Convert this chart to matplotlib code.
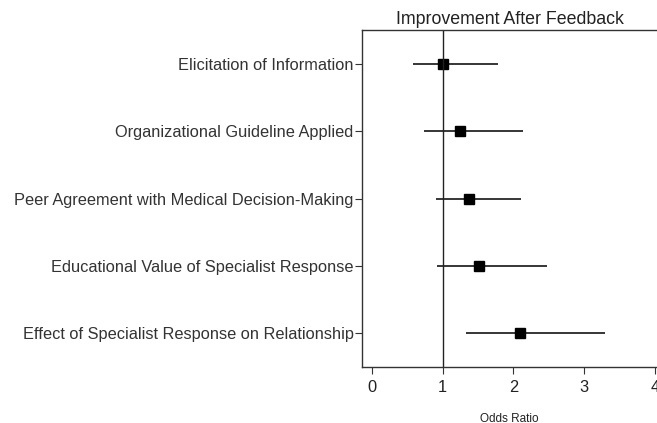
import matplotlib
matplotlib.use("Agg")
import matplotlib.pyplot as plt

plt.rcParams['font.family'] = ['Liberation Sans', 'DejaVu Sans']

outcomes = [
    "Elicitation of Information",
    "Organizational Guideline Applied",
    "Peer Agreement with Medical Decision-Making",
    "Educational Value of Specialist Response",
    "Effect of Specialist Response on Relationship",
]
odds_ratio = [1.00, 1.25, 1.37, 1.51, 2.09]
ci_low = [0.58, 0.74, 0.90, 0.92, 1.33]
ci_high = [1.78, 2.14, 2.11, 2.48, 3.29]

fig = plt.figure(figsize=(6.57, 4.23), dpi=100)
ax = fig.add_axes([0.551, 0.132, 0.449, 0.797])

rows = list(range(len(outcomes), 0, -1))
for y, lo, hi in zip(rows, ci_low, ci_high):
    ax.plot([lo, hi], [y, y], color="black", lw=1.1, solid_capstyle="butt")
ax.plot(odds_ratio, rows, "s", color="black", ms=7.2)
ax.axvline(1, color="#222222", lw=1.0)

ax.set_xlim(-0.14, 4.03)
ax.set_ylim(0.5, len(outcomes) + 0.5)
ax.set_yticks(rows)
ax.set_yticklabels(outcomes, fontsize=11.8, color="#222222")
ax.set_xticks([0, 1, 2, 3, 4])
ax.tick_params(axis="x", labelsize=11.8, length=5, colors="#333333", labelcolor="#222222", pad=4)
ax.tick_params(axis="y", length=5, colors="#333333", pad=1)

for side in ["left", "bottom", "top"]:
    ax.spines[side].set_color("#333333")
    ax.spines[side].set_linewidth(1.0)
ax.spines["right"].set_visible(False)

ax.set_title("Improvement After Feedback", fontsize=12.8, color="#222222", pad=4)
ax.set_xlabel("Odds Ratio", fontsize=8.5, color="#222222", labelpad=13)

fig.savefig("out.png", dpi=100)
